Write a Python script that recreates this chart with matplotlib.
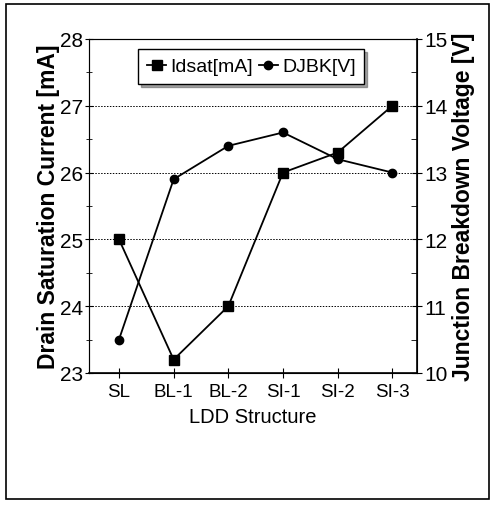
import matplotlib.pyplot as plt
from matplotlib.patches import Rectangle
from matplotlib.ticker import MultipleLocator

plt.rcParams['font.family'] = ['Liberation Sans', 'DejaVu Sans']

estructuras = ['SL', 'BL-1', 'BL-2', 'SI-1', 'SI-2', 'SI-3']
idsat = [25.0, 23.2, 24.0, 26.0, 26.3, 27.0]   # mA
djbk = [10.5, 12.9, 13.4, 13.6, 13.2, 13.0]    # V

fig = plt.figure(figsize=(4.94, 5.06), dpi=100)
# marco exterior de la figura
fig.patches.append(Rectangle((0.012, 0.012), 0.978, 0.978, transform=fig.transFigure,
                             fill=False, edgecolor='black', linewidth=1.2))

ax = fig.add_axes([0.180, 0.261, 0.664, 0.660])
x = range(len(estructuras))
l1, = ax.plot(x, idsat, 'k-', marker='s', markersize=7.5, linewidth=1.3, label='Idsat[mA]')
ax.set_ylim(23, 28)
ax.set_xlim(-0.55, 5.45)
ax.yaxis.set_major_locator(MultipleLocator(1))
ax.yaxis.set_minor_locator(MultipleLocator(0.5))
ax.set_xticks(list(x))
ax.set_xticklabels(estructuras, fontsize=13.5)
ax.tick_params(axis='y', labelsize=15, direction='inout', length=6, pad=1)
ax.tick_params(axis='y', which='minor', direction='inout', length=4)
ax.tick_params(axis='x', direction='inout', length=7, pad=4)
for v in [24, 25, 26, 27]:
    ax.axhline(v, color='black', linestyle=(0, (1.5, 1.5)), linewidth=0.7, zorder=0)
ax.set_ylabel('Drain Saturation Current [mA]', fontsize=16.5, fontweight='bold', labelpad=0)
ax.set_xlabel('LDD Structure', fontsize=14.5, labelpad=5)
ax.spines['left'].set_color('0.35')
ax.spines['left'].set_linewidth(0.8)
ax.spines['top'].set_color('0.35')
ax.spines['top'].set_linewidth(0.8)
ax.spines['bottom'].set_linewidth(1.2)

ax2 = ax.twinx()
l2, = ax2.plot(x, djbk, 'k-', marker='o', markersize=6, linewidth=1.3, label='DJBK[V]')
ax2.set_ylim(10, 15)
ax2.yaxis.set_major_locator(MultipleLocator(1))
ax2.yaxis.set_minor_locator(MultipleLocator(0.5))
ax2.tick_params(axis='y', labelsize=15, direction='inout', length=7, pad=2)
ax2.tick_params(axis='y', which='minor', direction='in', length=4)
ax2.set_ylabel('Junction Breakdown Voltage [V]', fontsize=16.5, fontweight='bold', labelpad=3)
ax2.spines['right'].set_linewidth(1.2)

leg = ax.legend(handles=[l1, l2], loc='upper center', bbox_to_anchor=(0.495, 0.97), ncol=2,
                fontsize=14, frameon=True, fancybox=False, shadow=True, handlelength=1.0,
                handletextpad=0.2, columnspacing=0.3, borderpad=0.45, borderaxespad=0)
leg.get_frame().set_edgecolor('black')
leg.get_frame().set_linewidth(1.0)

fig.savefig('out.png', dpi=100)
